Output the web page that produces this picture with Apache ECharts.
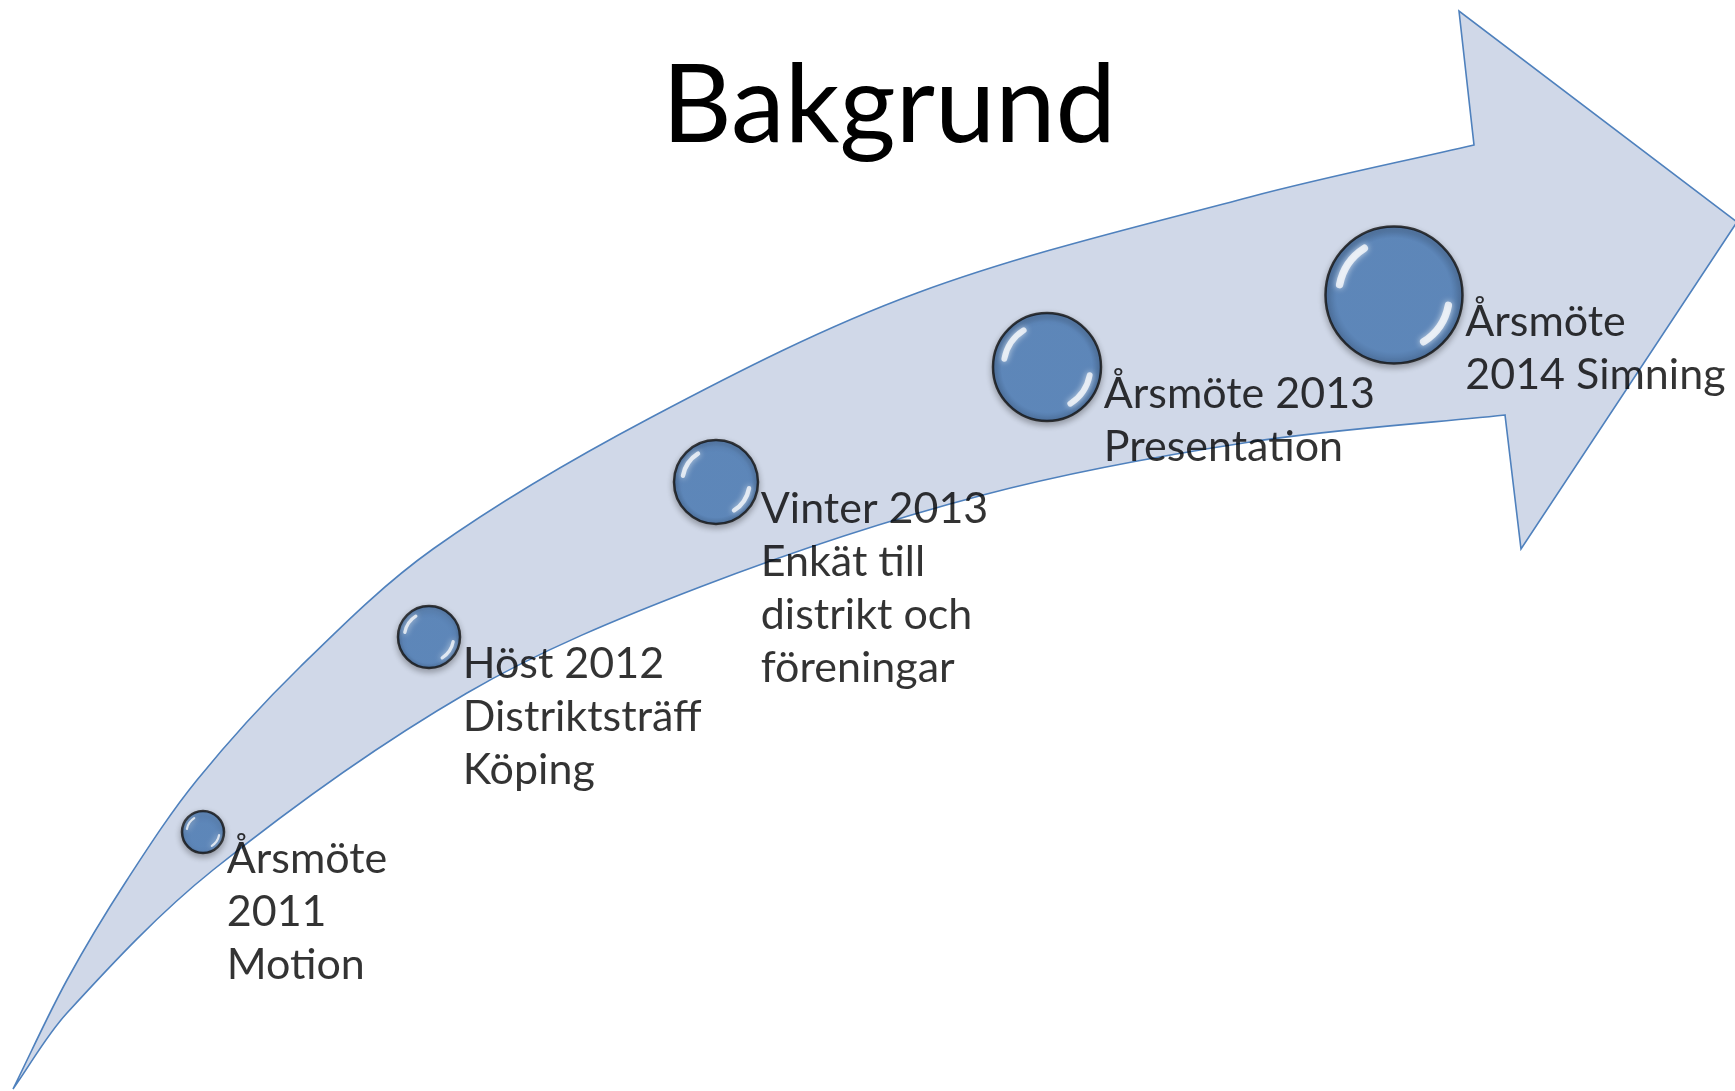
<!DOCTYPE html>
<html lang="sv">
<head>
<meta charset="utf-8">
<title>Bakgrund</title>
<script src="https://cdn.jsdelivr.net/npm/echarts@6/dist/echarts.min.js"></script>
<style>
    html, body { margin: 0; padding: 0; background: #ffffff; }
    #chart { width: 1735px; height: 1091px; }
</style>
</head>
<body>
<div id="chart"></div>
<script>
// arrow outline (pixel-like units, y grows downward)
var upperEdge = [[13, 1089], [67, 980], [127, 880], [197, 780], [300, 667], [433, 549], [650, 418], [917, 293], [1250, 197], [1474, 145]];
var arrowHead = [[1474, 145], [1459, 11], [1737, 222], [1521, 549], [1505, 415]];
var lowerEdge = [[1505, 415], [1250, 442], [983, 495], [700, 587], [467, 693], [213, 870], [67, 1013], [13, 1089]];

// milestones
var stepX = [203, 429, 716, 1047, 1394];
var stepY = [832, 637, 482, 367, 295];
var stepSize = [44, 64, 86, 110, 139];
var stepText = [
    'Årsmöte\n2011\nMotion',
    'Höst 2012\nDistriktsträff\nKöping',
    'Vinter 2013\nEnkät till\ndistrikt och\nföreningar',
    'Årsmöte 2013\nPresentation',
    'Årsmöte\n2014 Simning'
];

var chart = echarts.init(document.getElementById('chart'));

// smooth curve through points: unit tangents, handles a third of each segment
function smoothPath(pts) {
    var n = pts.length;
    var tan = pts.map(function (p, i) {
        var a = pts[Math.max(0, i - 1)], b = pts[Math.min(n - 1, i + 1)];
        var dx = b[0] - a[0], dy = b[1] - a[1];
        var len = Math.sqrt(dx * dx + dy * dy) || 1;
        return [dx / len, dy / len];
    });
    var d = '';
    for (var i = 0; i < n - 1; i++) {
        var p1 = pts[i], p2 = pts[i + 1];
        var L = Math.sqrt(Math.pow(p2[0] - p1[0], 2) + Math.pow(p2[1] - p1[1], 2)) / 3;
        d += 'C' + (p1[0] + tan[i][0] * L) + ',' + (p1[1] + tan[i][1] * L) + ','
            + (p2[0] - tan[i + 1][0] * L) + ',' + (p2[1] - tan[i + 1][1] * L) + ','
            + p2[0] + ',' + p2[1];
    }
    return d;
}

function renderArrow(params, api) {
    var up = upperEdge.map(function (p) { return api.coord(p); });
    var head = arrowHead.map(function (p) { return api.coord(p); });
    var low = lowerEdge.map(function (p) { return api.coord(p); });
    var d = 'M' + up[0][0] + ',' + up[0][1] + smoothPath(up);
    for (var i = 1; i < head.length; i++) d += 'L' + head[i][0] + ',' + head[i][1];
    d += smoothPath(low) + 'Z';
    return {
        type: 'path',
        shape: { pathData: d },
        style: { fill: '#d0d8e8', stroke: '#4f81bd', lineWidth: 1.6 }
    };
}

// glossy glints on the balls
function renderGloss(params, api) {
    var i = params.dataIndex;
    var c = api.coord([stepX[i], stepY[i]]);
    var r = stepSize[i] / 2 - 2;
    var w = Math.max(2, r * 0.11);
    var gloss = { stroke: 'rgba(255,255,255,0.75)', fill: null, lineWidth: w, lineCap: 'round', shadowBlur: 6, shadowColor: 'rgba(255,255,255,0.9)' };
    return {
        type: 'group',
        children: [
            { type: 'arc', shape: { cx: c[0], cy: c[1], r: r * 0.82, startAngle: Math.PI * 1.06, endAngle: Math.PI * 1.32 }, style: gloss },
            { type: 'arc', shape: { cx: c[0], cy: c[1], r: r * 0.82, startAngle: Math.PI * 0.06, endAngle: Math.PI * 0.32 }, style: gloss }
        ]
    };
}

var steps = stepX.map(function (x, i) {
    var s = stepSize[i];
    return {
        value: [x, stepY[i]],
        symbolSize: s - 2,
        label: { position: [s + 2, s / 2 + 1] }
    };
});

var option = {
    animation: false,
    title: {
        text: 'Bakgrund',
        left: 884,
        top: 37,
        textAlign: 'center',
        textStyle: { fontFamily: 'Lato', fontSize: 108, fontWeight: 'normal', color: '#000', lineHeight: 130 }
    },
    grid: { left: 0, right: 0, top: 0, bottom: 0 },
    xAxis: { type: 'value', min: 0, max: 1735, show: false },
    yAxis: { type: 'value', min: 0, max: 1091, inverse: true, show: false },
    series: [
        {
            type: 'custom',
            renderItem: renderArrow,
            data: [0],
            silent: true,
            z: 1
        },
        {
            type: 'scatter',
            data: steps,
            symbol: 'circle',
            z: 3,
            itemStyle: {
                color: {
                    type: 'radial', x: 0.5, y: 0.5, r: 0.5,
                    colorStops: [
                        { offset: 0, color: '#4f81bd' },
                        { offset: 0.82, color: '#4f81bd' },
                        { offset: 1, color: '#3a6498' }
                    ]
                },
                borderColor: '#111',
                borderWidth: 2.5,
                shadowBlur: 6,
                shadowOffsetY: 3,
                shadowColor: 'rgba(0,0,0,0.35)'
            },
            label: {
                show: true,
                formatter: function (p) { return stepText[p.dataIndex]; },
                fontFamily: 'Lato',
                fontSize: 43,
                lineHeight: 53,
                color: '#000',
                align: 'left',
                verticalAlign: 'top'
            }
        },
        {
            type: 'custom',
            renderItem: renderGloss,
            data: stepX,
            silent: true,
            z: 4
        }
    ]
};
chart.setOption(option);
</script>
</body>
</html>
